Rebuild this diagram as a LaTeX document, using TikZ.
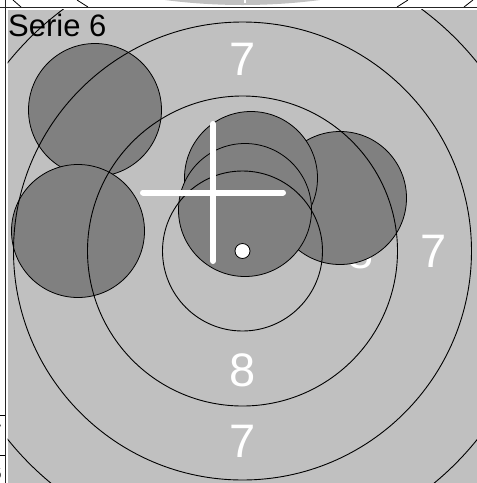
\documentclass[tikz,border=0pt]{standalone}
\usepackage{fontspec}
\setmainfont{Liberation Sans}
\definecolor{panelgray}{HTML}{C0C0C0}
\definecolor{shotgray}{HTML}{808080}
\begin{document}
\begin{tikzpicture}[x=1pt,y=-1pt,
  ring/.style={draw=black,line width=0.9pt},
  shot/.style={fill=shotgray,draw=black,line width=0.8pt},
  zone/.style={text=white,inner sep=0pt,font=\fontsize{47}{47}\selectfont},
  aim/.style={draw=white,line width=6pt,line cap=round},
  frame/.style={draw=black!85,line width=1.5pt},
  thin/.style={draw=black,line width=0.8pt}]
\useasboundingbox (0,0) rectangle (477,483);
\fill[white] (0,0) rectangle (477,483);
% strip above the panel
\begin{scope}
  \clip (0,0) rectangle (477,7);
  \fill[panelgray] (242.5,-590) circle (595);
  \fill[white] (243.5,0) rectangle (246,2.5);
  \draw[thin] (13,0) -- (21,7);
  \draw[thin] (77,0) -- (88,7);
  \draw[thin] (397,7) -- (408,0);
  \draw[thin] (464,7) -- (473,0);
\end{scope}
% frame lines
\draw[frame] (0,7.6) -- (477,7.6);
\draw[frame] (5.7,0) -- (5.7,483);
\draw[thin] (0,415) -- (5,415);
\draw[thin] (0,455) -- (5,455);
\begin{scope}
  \clip (0,410) rectangle (4.9,483);
  \node[anchor=north east,inner sep=0pt,font=\fontsize{18}{18}\selectfont] (leftA) at (1.8,425) {7};
  \node[anchor=north east,inner sep=0pt,font=\fontsize{18}{18}\selectfont] (leftB) at (1.8,467) {6};
\end{scope}
% panel
\begin{scope}
  \clip (7.5,9.5) rectangle (477,483);
  \fill[panelgray] (7.5,9.5) rectangle (477,483);
  \node[zone] (r8e) at (361,252) {8};
  \node[zone] (r7n) at (242.5,59.5) {7};
  \node[zone] (r7e) at (434,251) {7};
  \node[zone] (r8s) at (242.5,370) {8};
  \node[zone] (r7s) at (242.5,441) {7};
  % shots
  \path[shot] (95,110) circle (66.5);
  \path[shot] (78,231) circle (66.5);
  \path[shot] (340,198) circle (66.5);
  \path[shot] (251,178) circle (66.5);
  \path[shot] (245,210) circle (66.5);
  % rings
  \foreach \r in {80,155,229,301} \draw[ring] (242.5,251) circle (\r);
  % aim cross
  \draw[aim] (143,192.5) -- (283,192.5);
  \draw[aim] (213,124) -- (213,261);
  % centre mark
  \filldraw[fill=white,draw=black,line width=0.8pt] (242.5,251) circle (7.5);
  \node[anchor=base west,inner sep=0pt,font=\fontsize{31}{31}\selectfont] (title) at (8,36) {Serie 6};
\end{scope}
\end{tikzpicture}
\end{document}
